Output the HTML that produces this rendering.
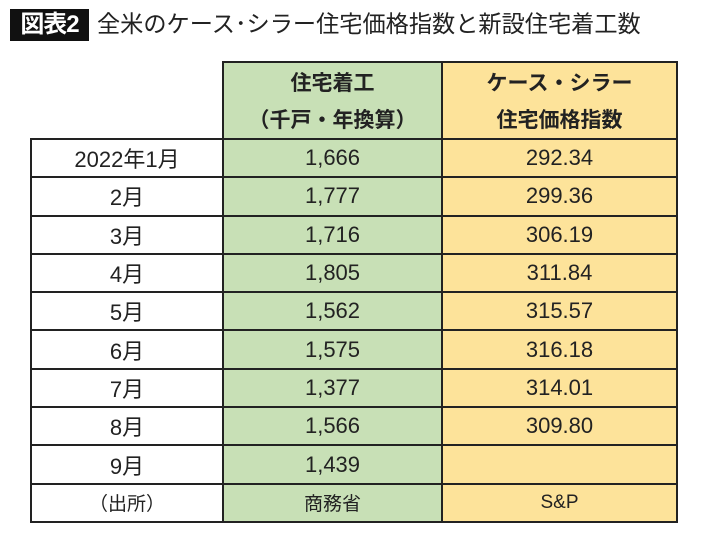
<!DOCTYPE html>
<html><head><meta charset="utf-8">
<style>
body{margin:0;background:#fff;width:710px;height:544px;position:relative;overflow:hidden;font-family:"Liberation Sans","Noto Sans CJK JP",sans-serif;}
#badge{position:absolute;left:10px;top:9px;width:79px;height:32px;background:#111;color:#fff;font-size:24px;font-weight:bold;line-height:32px;text-align:center;letter-spacing:-1px}
#title{position:absolute;left:97px;top:7px;font-size:23.2px;line-height:34px;color:#222;white-space:nowrap}
table{position:absolute;left:30px;top:61px;border-collapse:collapse;}
tr{height:38.3px}
tr.h{height:38.5px}
td{border:2px solid #222;text-align:center;font-size:22px;color:#222;padding:0;}
td.c1{width:190px;background:#fff}
td.c2{width:217px;background:#c8e0b6}
td.c3{width:233px;background:#fde39a}
tr.h td{font-weight:bold;font-size:21px}
tr.h td.top{border-bottom:none}
tr.h td.bot{border-top:none}
td.blank{border:none;border-right:2px solid #222;background:#fff}
tr.src td{font-size:19px}
</style></head><body>
<div id="badge">図表2</div>
<div id="title">全米のケース･シラー住宅価格指数と新設住宅着工数</div>
<table>
<tr class="h"><td class="c1 blank" rowspan="2"></td><td class="c2 top">住宅着工</td><td class="c3 top">ケース・シラー</td></tr>
<tr class="h"><td class="c2 bot">（千戸・年換算）</td><td class="c3 bot">住宅価格指数</td></tr>
<tbody id="body"></tbody>
</table>
<script>
const months=["2022年1月","2月","3月","4月","5月","6月","7月","8月","9月"];
const starts=["1,666","1,777","1,716","1,805","1,562","1,575","1,377","1,566","1,439"];
const index=["292.34","299.36","306.19","311.84","315.57","316.18","314.01","309.80",""];
const tb=document.getElementById('body');
for(let i=0;i<months.length;i++){
 const tr=document.createElement('tr');
 
 
 const vals=[months[i],starts[i],index[i]];
 const names=['month-cell','starts-cell','index-cell'];
 vals.forEach((v,j)=>{const td=document.createElement('td');td.className='c'+(j+1);td.textContent=v;
 
 
 tr.appendChild(td);});
 tb.appendChild(tr);
}
const tr=document.createElement('tr');tr.className='src';


[['（出所）','source-label'],['商務省','source-starts'],['S&P','source-index']].forEach((p,j)=>{const td=document.createElement('td');td.className='c'+(j+1);td.textContent=p[0];


tr.appendChild(td);});
tb.appendChild(tr);
</script>
</body></html>
